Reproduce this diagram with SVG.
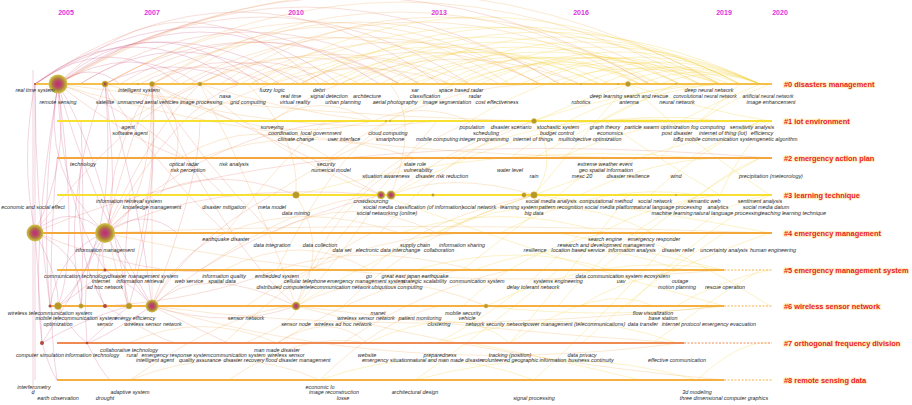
<svg xmlns="http://www.w3.org/2000/svg" width="912" height="405" viewBox="0 0 912 405">
<style>
.bg{fill:#fff}
.yr{font:bold 7px "Liberation Sans",Arial,sans-serif;fill:#e030e0;text-anchor:middle}
.cl{font:bold 7.4px "Liberation Sans",Arial,sans-serif;fill:#e8202a;stroke:#fdf0c0;stroke-width:2;paint-order:stroke}
.t{font:italic 5.4px "Liberation Sans",Arial,sans-serif;fill:#2a2a2a;text-anchor:middle}
.s{font-size:5px}
.ln{fill:none;stroke-width:1.8}
.dash{fill:none;stroke-width:1;stroke-dasharray:2 1.5}
.arcs path{fill:none;stroke-width:.6}
.p{stroke:#c84a7a;opacity:.4}
.r{stroke:#e06a55;opacity:.38}
.o{stroke:#f0a040;opacity:.4}
.y{stroke:#f3d030;opacity:.45}
.sn{fill:#b8962a;stroke:#d0b848;stroke-width:.5}
.rn{fill:#b04a40}
</style>
<defs>
<radialGradient id="big">
<stop offset="0" stop-color="#c02a7a"/>
<stop offset=".35" stop-color="#b84a68"/>
<stop offset=".6" stop-color="#b07a40"/>
<stop offset=".8" stop-color="#c0a838"/>
<stop offset="1" stop-color="#d2c452"/>
</radialGradient>
</defs>
<rect class="bg" x="0" y="0" width="912" height="405"/>
<g id="years">
<text class="yr" x="66" y="15">2005</text>
<text class="yr" x="152" y="15">2007</text>
<text class="yr" x="296" y="15">2010</text>
<text class="yr" x="439" y="15">2013</text>
<text class="yr" x="581" y="15">2016</text>
<text class="yr" x="724" y="15">2019</text>
<text class="yr" x="780" y="15">2020</text>
</g>
<g id="connectors" class="arcs">
<path class="p" d="M35,84 Q110,30 180,84"/>
<path class="p" d="M35,84 Q160,0 300,84"/>
<path class="p" d="M58,84 Q130,40 200,84"/>
<path class="p" d="M58,84 Q200,-20 340,84"/>
<path class="r" d="M58,84 Q260,-50 470,84"/>
<path class="r" d="M58,84 Q300,-70 560,84"/>
<path class="p" d="M58,84 Q90,60 120,84"/>
<path class="p" d="M105,84 Q170,50 240,84"/>
<path class="r" d="M105,84 Q250,0 400,84"/>
<path class="o" d="M105,84 Q320,-40 540,84"/>
<path class="r" d="M152,84 Q230,40 310,84"/>
<path class="o" d="M152,84 Q330,-30 510,84"/>
<path class="o" d="M152,84 Q400,-60 650,84"/>
<path class="o" d="M200,84 Q300,30 400,84"/>
<path class="o" d="M200,84 Q420,-40 640,84"/>
<path class="y" d="M250,84 Q480,-50 720,84"/>
<path class="o" d="M250,84 Q350,30 450,84"/>
<path class="y" d="M300,84 Q520,-30 740,84"/>
<path class="o" d="M300,84 Q420,20 540,84"/>
<path class="y" d="M340,84 Q500,0 660,84"/>
<path class="y" d="M380,84 Q560,-10 740,84"/>
<path class="y" d="M400,84 Q520,30 640,84"/>
<path class="y" d="M420,84 Q580,0 740,84"/>
<path class="y" d="M450,84 Q600,10 760,84"/>
<path class="y" d="M480,84 Q620,20 760,84"/>
<path class="y" d="M520,84 Q640,30 760,84"/>
<path class="y" d="M560,84 Q660,40 760,84"/>
<path class="y" d="M600,84 Q680,50 760,84"/>
<path class="y" d="M620,84 Q690,55 760,84"/>
<path class="y" d="M640,84 Q700,60 760,84"/>
<path class="y" d="M660,84 Q710,65 760,84"/>
<path class="y" d="M500,84 Q600,30 700,84"/>
<path class="y" d="M440,84 Q540,30 640,84"/>
<path class="r" d="M35,84 Q240,-60 440,84"/>
<path class="r" d="M80,84 Q250,-20 420,84"/>
<path class="o" d="M130,84 Q320,-10 500,84"/>
<path class="o" d="M180,84 Q360,-10 540,84"/>
<path class="o" d="M230,84 Q400,0 580,84"/>
<path class="y" d="M270,84 Q440,10 600,84"/>
<path class="y" d="M320,84 Q460,20 600,84"/>
<path class="y" d="M360,84 Q520,10 680,84"/>
<path class="r" d="M58,84 Q350,-90 650,84"/>
<path class="o" d="M58,84 Q380,-100 720,84"/>
<path class="o" d="M105,84 Q400,-80 700,84"/>
<path class="p" d="M35,84 Q200,-30 380,84"/>
<path class="p" d="M35,84 Q130,10 240,84"/>
<path class="p" d="M58,84 Q150,0 260,84"/>
<path class="p" d="M80,84 Q180,20 280,84"/>
<path class="r" d="M120,84 Q260,0 400,84"/>
<path class="o" d="M170,84 Q350,-40 560,84"/>
<path class="o" d="M220,84 Q430,-50 680,84"/>
<path class="y" d="M260,84 Q480,-30 720,84"/>
<path class="y" d="M290,84 Q480,-10 680,84"/>
<path class="y" d="M330,84 Q540,-20 760,84"/>
<path class="y" d="M350,84 Q480,20 610,84"/>
<path class="y" d="M390,84 Q540,20 700,84"/>
<path class="y" d="M410,84 Q560,30 720,84"/>
<path class="y" d="M460,84 Q560,40 660,84"/>
<path class="y" d="M470,84 Q600,30 730,84"/>
<path class="y" d="M530,84 Q620,40 720,84"/>
<path class="y" d="M580,84 Q660,50 740,84"/>
<path class="o" d="M300,84 Q360,50 420,84"/>
<path class="o" d="M240,84 Q300,50 360,84"/>
<path class="r" d="M190,84 Q260,40 330,84"/>
<path class="r" d="M140,84 Q200,50 270,84"/>
<path class="r" d="M58,84 Q180,-40 320,84"/>
<path class="o" d="M128,121 Q300,10 470,84"/>
<path class="o" d="M272,121 Q420,20 580,84"/>
<path class="y" d="M388,121 Q520,30 650,84"/>
<path class="y" d="M470,121 Q600,40 720,84"/>
<path class="o" d="M190,121 Q330,40 450,84"/>
<path class="p" d="M33,70 L33,395"/>
<path class="p" d="M35,84 L35,380"/>
<path class="p" d="M35,84 Q20,160 35,232"/>
<path class="p" d="M58,84 Q40,170 105,233"/>
<path class="p" d="M58,84 Q70,160 35,232"/>
<path class="p" d="M58,84 Q90,200 152,306"/>
<path class="p" d="M58,84 Q100,150 129,306"/>
<path class="p" d="M35,232 Q60,280 58,306"/>
<path class="p" d="M105,233 Q90,280 105,306"/>
<path class="p" d="M105,233 Q130,280 152,306"/>
<path class="p" d="M35,232 Q40,300 42,343"/>
<path class="p" d="M105,233 Q70,300 42,343"/>
<path class="r" d="M105,233 Q180,150 296,195"/>
<path class="r" d="M105,233 Q200,180 381,195"/>
<path class="p" d="M35,232 Q70,200 105,233"/>
<path class="p" d="M105,233 Q145,205 177,233"/>
<path class="r" d="M152,306 Q200,260 296,306"/>
<path class="r" d="M152,306 Q240,230 381,195"/>
<path class="p" d="M152,306 Q100,340 87,343"/>
<path class="p" d="M58,306 Q70,330 87,343"/>
<path class="p" d="M129,306 Q100,330 87,343"/>
<path class="p" d="M42,343 Q80,320 129,306"/>
<path class="p" d="M42,343 Q50,370 57,380"/>
<path class="p" d="M87,343 Q100,370 110,380"/>
<path class="p" d="M35,84 Q35,200 50,306"/>
<path class="p" d="M58,84 Q80,250 58,306"/>
<path class="p" d="M105,84 Q120,200 105,233"/>
<path class="p" d="M105,84 Q140,200 152,306"/>
<path class="p" d="M81,121 Q85,220 81,306"/>
<path class="p" d="M82,158 Q70,250 105,306"/>
<path class="p" d="M57,158 Q45,300 57,380"/>
<path class="p" d="M130,195 Q120,300 129,306"/>
<path class="p" d="M42,343 Q30,250 58,84"/>
<path class="p" d="M50,306 Q40,200 58,84"/>
<path class="p" d="M87,343 Q80,250 105,233"/>
<path class="p" d="M58,306 Q120,250 105,84"/>
<path class="p" d="M129,306 Q160,200 152,84"/>
<path class="p" d="M105,270 Q60,200 58,84"/>
<path class="p" d="M81,306 Q60,200 105,84"/>
<path class="r" d="M35,232 Q120,120 200,84"/>
<path class="r" d="M105,233 Q150,130 200,84"/>
<path class="r" d="M105,233 Q180,100 240,84"/>
<path class="r" d="M58,84 Q130,140 183,158"/>
<path class="r" d="M105,84 Q150,160 226,233"/>
<path class="r" d="M58,84 Q140,110 224,195"/>
<path class="r" d="M152,306 Q180,250 226,233"/>
<path class="r" d="M152,84 Q200,160 272,233"/>
<path class="r" d="M152,306 Q200,180 200,121"/>
<path class="r" d="M152,84 Q160,150 135,270"/>
<path class="r" d="M35,232 Q150,280 224,270"/>
<path class="r" d="M105,306 Q200,300 277,270"/>
<path class="r" d="M152,84 Q200,130 160,195"/>
<path class="r" d="M152,84 Q130,140 105,233"/>
<path class="r" d="M152,306 Q190,240 272,195"/>
<path class="r" d="M152,84 Q80,200 129,306"/>
<path class="r" d="M152,306 Q230,330 296,306"/>
<path class="r" d="M152,84 Q152,160 152,306"/>
<path class="r" d="M152,84 Q152,210 105,233"/>
<path class="r" d="M152,84 Q220,240 296,306"/>
<path class="r" d="M152,84 Q300,150 381,195"/>
<path class="o" d="M200,84 Q260,200 296,306"/>
<path class="o" d="M200,84 Q280,160 381,195"/>
<path class="o" d="M248,84 Q300,140 296,195"/>
<path class="o" d="M296,195 Q330,250 296,306"/>
<path class="o" d="M381,195 Q340,260 296,306"/>
<path class="o" d="M391,195 Q450,170 534,195"/>
<path class="o" d="M391,195 Q460,140 534,121"/>
<path class="o" d="M391,195 Q420,120 390,84"/>
<path class="o" d="M296,306 Q380,260 486,306"/>
<path class="y" d="M296,306 Q400,240 534,195"/>
<path class="y" d="M534,121 Q580,100 628,84"/>
<path class="y" d="M534,195 Q580,140 628,84"/>
<path class="y" d="M534,121 Q560,160 534,195"/>
<path class="y" d="M534,195 Q650,150 770,121"/>
<path class="y" d="M534,195 Q650,210 770,233"/>
<path class="y" d="M628,84 Q700,150 770,195"/>
<path class="y" d="M628,84 Q700,110 770,121"/>
<path class="y" d="M534,121 Q650,80 770,84"/>
<path class="y" d="M486,306 Q600,250 724,270"/>
<path class="y" d="M486,306 Q600,320 724,306"/>
<path class="y" d="M381,195 Q550,260 724,306"/>
<path class="y" d="M391,195 Q560,100 724,121"/>
<path class="y" d="M296,195 Q500,140 700,158"/>
<path class="o" d="M296,306 Q500,360 724,380"/>
<path class="o" d="M296,306 Q480,330 680,343"/>
<path class="o" d="M152,306 Q400,380 680,343"/>
<path class="o" d="M152,306 Q400,340 724,306"/>
<path class="o" d="M105,233 Q400,300 724,270"/>
<path class="o" d="M105,233 Q400,220 770,233"/>
<path class="o" d="M58,84 Q400,130 770,121"/>
<path class="o" d="M58,84 Q300,160 700,158"/>
<path class="r" d="M35,232 Q300,120 770,158"/>
<path class="o" d="M105,84 Q300,140 437,121"/>
<path class="o" d="M152,84 Q260,150 373,121"/>
<path class="o" d="M200,84 Q280,110 373,121"/>
<path class="o" d="M373,121 Q420,100 470,121"/>
<path class="o" d="M270,121 Q320,90 373,121"/>
<path class="r" d="M105,233 Q220,120 373,121"/>
<path class="o" d="M200,158 Q300,120 415,158"/>
<path class="o" d="M180,158 Q260,110 330,158"/>
<path class="o" d="M226,233 Q300,200 400,233"/>
<path class="o" d="M272,233 Q350,190 437,233"/>
<path class="y" d="M400,233 Q500,200 605,233"/>
<path class="y" d="M437,233 Q550,180 653,233"/>
<path class="o" d="M224,270 Q300,230 370,270"/>
<path class="o" d="M277,270 Q360,240 474,270"/>
<path class="y" d="M415,270 Q520,240 610,270"/>
<path class="y" d="M474,270 Q580,230 680,270"/>
<path class="o" d="M129,343 Q200,310 277,343"/>
<path class="o" d="M277,343 Q330,310 367,343"/>
<path class="y" d="M367,343 Q460,300 510,343"/>
<path class="y" d="M440,343 Q560,300 677,343"/>
<path class="o" d="M130,380 Q230,340 320,380"/>
<path class="y" d="M320,380 Q430,340 534,380"/>
<path class="y" d="M415,380 Q560,340 697,380"/>
<path class="y" d="M680,121 Q720,100 760,84"/>
<path class="y" d="M700,121 Q730,100 770,84"/>
<path class="y" d="M690,158 Q720,140 760,121"/>
<path class="y" d="M660,158 Q700,120 740,84"/>
<path class="y" d="M700,195 Q730,170 760,158"/>
<path class="y" d="M650,195 Q700,150 760,121"/>
<path class="y" d="M720,195 Q740,150 770,121"/>
<path class="y" d="M600,121 Q650,90 720,84"/>
<path class="y" d="M560,158 Q640,120 720,121"/>
<path class="y" d="M580,195 Q650,160 720,158"/>
<path class="y" d="M600,233 Q660,200 720,195"/>
<path class="y" d="M500,233 Q600,180 700,195"/>
<path class="y" d="M450,158 Q560,110 680,121"/>
<path class="y" d="M510,158 Q600,90 700,84"/>
<path class="o" d="M330,158 Q430,80 560,84"/>
<path class="o" d="M380,233 Q450,150 534,121"/>
<path class="o" d="M370,270 Q420,220 534,195"/>
<path class="o" d="M343,306 Q420,230 534,195"/>
<path class="y" d="M463,306 Q520,250 605,233"/>
<path class="y" d="M510,343 Q600,280 653,306"/>
<path class="o" d="M245,343 Q300,320 296,306"/>
<path class="r" d="M152,306 Q200,330 228,343"/>
<path class="r" d="M105,306 Q160,340 176,343"/>
<path class="p" d="M50,306 Q60,250 105,233"/>
<path class="p" d="M81,306 Q90,260 35,232"/>
<path class="p" d="M105,270 Q100,250 105,233"/>
<path class="p" d="M105,270 Q70,300 58,306"/>
<path class="p" d="M105,270 Q140,290 152,306"/>
<path class="o" d="M226,233 Q280,160 326,121"/>
<path class="o" d="M277,270 Q330,160 388,121"/>
<path class="o" d="M312,270 Q380,190 437,121"/>
<path class="o" d="M296,306 Q330,200 415,158"/>
<path class="o" d="M272,195 Q340,150 415,121"/>
<path class="o" d="M320,233 Q380,160 472,121"/>
<path class="o" d="M246,306 Q340,240 462,233"/>
<path class="o" d="M200,270 Q300,200 381,195"/>
<path class="o" d="M224,343 Q300,270 371,233"/>
<path class="o" d="M277,343 Q380,280 462,270"/>
<path class="o" d="M320,380 Q380,320 439,306"/>
<path class="o" d="M130,380 Q230,310 296,306"/>
<path class="o" d="M229,380 Q300,330 367,343"/>
<path class="o" d="M343,343 Q420,290 510,270"/>
<path class="y" d="M415,380 Q500,320 558,270"/>
<path class="y" d="M437,343 Q520,300 580,233"/>
<path class="y" d="M462,270 Q540,210 605,158"/>
<path class="y" d="M510,343 Q580,260 628,195"/>
<path class="y" d="M534,380 Q620,300 676,233"/>
<path class="y" d="M558,306 Q620,230 700,195"/>
<path class="y" d="M582,343 Q650,280 724,233"/>
<path class="y" d="M600,270 Q680,200 760,158"/>
<path class="y" d="M628,306 Q700,230 770,195"/>
<path class="y" d="M653,343 Q710,300 760,270"/>
<path class="y" d="M534,158 Q600,120 676,84"/>
<path class="y" d="M605,121 Q660,160 720,195"/>
<path class="y" d="M580,306 Q620,280 680,270"/>
<path class="y" d="M470,343 Q560,360 640,380"/>
<path class="y" d="M560,233 Q640,250 724,270"/>
<path class="y" d="M628,233 Q700,260 770,306"/>
<path class="y" d="M676,270 Q720,250 770,233"/>
<path class="y" d="M676,306 Q720,280 770,270"/>
<path class="y" d="M697,380 Q740,340 770,343"/>
<path class="y" d="M690,233 Q730,200 770,195"/>
</g>
<g id="cluster-0">
<line class="ln" x1="35" y1="84" x2="772" y2="84" stroke="#f6bf48"/>
<circle cx="35" cy="84" r="1" class="rn"/>
<circle cx="58" cy="84" r="9.5" fill="url(#big)"/>
<circle cx="105" cy="84" r="3" class="sn"/><circle cx="105" cy="84" r="1.4" class="rn"/>
<circle cx="138" cy="84" r=".8" class="sn"/>
<circle cx="152" cy="84" r="2.5" class="sn"/>
<circle cx="200" cy="84" r="2" class="sn"/>
<circle cx="581" cy="84" r=".8" class="sn"/>
<circle cx="618" cy="84" r=".8" class="sn"/>
<circle cx="628" cy="84" r="2.5" class="sn"/>
<circle cx="676" cy="84" r=".8" class="sn"/>
<text class="cl" x="784" y="86.5">#0 disasters management</text>
<text class="t" x="35" y="92">real time system</text>
<text class="t" x="139" y="92">intelligent system</text>
<text class="t" x="272" y="92">fuzzy logic</text>
<text class="t" x="319" y="92">debri</text>
<text class="t" x="415" y="92">sar</text>
<text class="t" x="461" y="92">space based radar</text>
<text class="t" x="709" y="92">deep neural network</text>
<text class="t" x="225" y="98">nasa</text>
<text class="t" x="291" y="98">real time</text>
<text class="t" x="329" y="98">signal detection</text>
<text class="t" x="367" y="98">architecture</text>
<text class="t" x="425" y="98">classification</text>
<text class="t" x="475" y="98">radar</text>
<text class="t" x="606" y="98">deep learning</text>
<text class="t" x="646" y="98">search and rescue</text>
<text class="t s" x="705" y="98">convolutional neural network</text>
<text class="t s" x="768" y="98">artificial neural network</text>
<text class="t" x="58" y="104">remote sensing</text>
<text class="t" x="105" y="104">satellite</text>
<text class="t" x="148" y="104">unmanned aerial vehicles</text>
<text class="t" x="201" y="104">image processing</text>
<text class="t" x="248" y="104">grid computing</text>
<text class="t" x="295" y="104">virtual reality</text>
<text class="t" x="343" y="104">urban planning</text>
<text class="t" x="395" y="104">aerial photography</text>
<text class="t" x="447" y="104">image segmentation</text>
<text class="t" x="497" y="104">cost effectiveness</text>
<text class="t" x="581" y="104">robotics</text>
<text class="t" x="629" y="104">antenna</text>
<text class="t" x="677" y="104">neural network</text>
<text class="t" x="771" y="104">image enhancement</text>
</g>
<g id="cluster-1">
<line class="ln" x1="57" y1="121" x2="772" y2="121" stroke="#f7e030"/>
<circle cx="386" cy="121" r=".8" class="sn"/>
<circle cx="390" cy="121" r=".8" class="sn"/>
<circle cx="534" cy="121" r="2.5" class="sn"/>
<text class="cl" x="784" y="123.5">#1 iot environment</text>
<text class="t" x="128" y="129">agent</text>
<text class="t" x="272" y="129">surveying</text>
<text class="t" x="472" y="129">population</text>
<text class="t" x="511" y="129">disaster scenario</text>
<text class="t" x="558" y="129">stochastic system</text>
<text class="t" x="605" y="129">graph theory</text>
<text class="t" x="657" y="129">particle swarm optimization</text>
<text class="t" x="708" y="129">fog computing</text>
<text class="t" x="752" y="129">sensitivity analysis</text>
<text class="t" x="130" y="135">software agent</text>
<text class="t" x="283" y="135">coordination</text>
<text class="t" x="321" y="135">local government</text>
<text class="t" x="388" y="135">cloud computing</text>
<text class="t" x="486" y="135">scheduling</text>
<text class="t" x="557" y="135">budget control</text>
<text class="t" x="610" y="135">economics</text>
<text class="t" x="677" y="135">post disaster</text>
<text class="t" x="723" y="135">internet of thing (iot)</text>
<text class="t" x="762" y="135">efficiency</text>
<text class="t" x="296" y="141">climate change</text>
<text class="t" x="344" y="141">user interface</text>
<text class="t" x="390" y="141">smartphone</text>
<text class="t" x="437" y="141">mobile computing</text>
<text class="t" x="484" y="141">integer programming</text>
<text class="t" x="533" y="141">internet of things</text>
<text class="t" x="590" y="141">multiobjective optimization</text>
<text class="t" x="676" y="141">iot</text>
<text class="t" x="717" y="141">5g mobile communication system</text>
<text class="t" x="777" y="141">genetic algorithm</text>
</g>
<g id="cluster-2">
<line class="ln" x1="57" y1="158" x2="772" y2="158" stroke="#f5a63a"/>
<text class="cl" x="784" y="160.5">#2 emergency action plan</text>
<text class="t" x="83" y="166">technology</text>
<text class="t" x="184" y="166">optical radar</text>
<text class="t" x="234" y="166">risk analysis</text>
<text class="t" x="326" y="166">security</text>
<text class="t" x="415" y="166">state role</text>
<text class="t" x="605" y="166">extreme weather event</text>
<text class="t" x="188" y="172">risk perception</text>
<text class="t" x="331" y="172">numerical model</text>
<text class="t" x="418" y="172">vulnerability</text>
<text class="t" x="510" y="172">water level</text>
<text class="t" x="606" y="172">geo spatial information</text>
<text class="t" x="386" y="178">situation awareness</text>
<text class="t" x="442" y="178">disaster risk reduction</text>
<text class="t" x="534" y="178">rain</text>
<text class="t" x="582" y="178">mesc 20</text>
<text class="t" x="628" y="178">disaster resilience</text>
<text class="t" x="676" y="178">wind</text>
<text class="t" x="771" y="178">precipitation (meteorology)</text>
</g>
<g id="cluster-3">
<line class="ln" x1="57" y1="195" x2="772" y2="195" stroke="#f7e030"/>
<circle cx="296" cy="195" r="3.3" class="sn"/>
<circle cx="381" cy="195" r="4" fill="url(#big)"/>
<circle cx="391" cy="195" r="4.5" fill="url(#big)"/>
<circle cx="433" cy="195" r="1.3" class="sn"/>
<circle cx="524" cy="195" r="2.2" class="sn"/>
<circle cx="534" cy="195" r="3.3" class="sn"/>
<circle cx="676" cy="195" r=".8" class="sn"/>
<text class="cl" x="784" y="197.5">#3 learning technique</text>
<text class="t" x="129" y="203">information retrieval system</text>
<text class="t" x="371" y="203">crowdsourcing</text>
<text class="t" x="551" y="203">social media analysis</text>
<text class="t" x="606" y="203">computational method</text>
<text class="t" x="655" y="203">social network</text>
<text class="t" x="704" y="203">semantic web</text>
<text class="t" x="760" y="203">sentiment analysis</text>
<text class="t" x="33" y="209">economic and social effect</text>
<text class="t" x="152" y="209">knowledge management</text>
<text class="t" x="224" y="209">disaster mitigation</text>
<text class="t" x="272" y="209">meta model</text>
<text class="t" x="378" y="209">social media</text>
<text class="t" x="429" y="209">classification (of information)</text>
<text class="t" x="479" y="209">social network</text>
<text class="t" x="519" y="209">learning system</text>
<text class="t" x="561" y="209">pattern recognition</text>
<text class="t" x="610" y="209">social media platform</text>
<text class="t" x="668" y="209">natural language processing</text>
<text class="t" x="718" y="209">analytics</text>
<text class="t" x="766" y="209">social media datum</text>
<text class="t" x="296" y="215">data mining</text>
<text class="t" x="387" y="215">social networking (online)</text>
<text class="t" x="534" y="215">big data</text>
<text class="t" x="672" y="215">machine learning</text>
<text class="t" x="727" y="215">natural language processing</text>
<text class="t" x="793" y="215">teaching learning technique</text>
</g>
<g id="cluster-4">
<line class="ln" x1="43" y1="233" x2="772" y2="233" stroke="#f5a83a"/>
<circle cx="35" cy="233" r="8.5" fill="url(#big)"/>
<circle cx="105" cy="233" r="10" fill="url(#big)"/>
<text class="cl" x="784" y="235.5">#4 emergency management</text>
<text class="t" x="226" y="241">earthquake disaster</text>
<text class="t" x="605" y="241">search engine</text>
<text class="t" x="654" y="241">emergency responder</text>
<text class="t" x="272" y="246.5">data integration</text>
<text class="t" x="320" y="246.5">data collection</text>
<text class="t" x="415" y="246.5">supply chain</text>
<text class="t" x="462" y="246.5">information sharing</text>
<text class="t" x="606" y="246.5">research and development management</text>
<text class="t" x="105" y="252">information management</text>
<text class="t" x="342" y="252">data set</text>
<text class="t" x="388" y="252">electronic data interchange</text>
<text class="t" x="439" y="252">collaboration</text>
<text class="t" x="578" y="252">location based service</text>
<text class="t" x="535" y="252">resilience</text>
<text class="t" x="632" y="252">information analysis</text>
<text class="t" x="678" y="252">disaster relief</text>
<text class="t" x="724" y="252">uncertainty analysis</text>
<text class="t" x="773" y="252">human engineering</text>
</g>
<g id="cluster-5">
<line class="ln" x1="57" y1="270" x2="724" y2="270" stroke="#f5b040"/>
<line class="dash" x1="724" y1="270" x2="772" y2="270" stroke="#f5b040"/>
<circle cx="105" cy="270" r="1.5" class="rn"/>
<text class="cl" x="784" y="272.5">#5 emergency management system</text>
<text class="t" x="76" y="278">communication technology</text>
<text class="t" x="143" y="278">disaster management system</text>
<text class="t" x="224" y="278">information quality</text>
<text class="t" x="277" y="278">embedded system</text>
<text class="t" x="369" y="278">go</text>
<text class="t" x="415" y="278">great east japan earthquake</text>
<text class="t" x="609" y="278">data communication system</text>
<text class="t" x="657" y="278">ecosystem</text>
<text class="t" x="101" y="283">internet</text>
<text class="t" x="140" y="283">information retrieval</text>
<text class="t" x="189" y="283">web service</text>
<text class="t" x="222" y="283">spatial data</text>
<text class="t" x="305" y="283">cellular telephone</text>
<text class="t" x="366" y="283">emergency management system</text>
<text class="t" x="424" y="283">strategic scalability</text>
<text class="t" x="477" y="283">communication system</text>
<text class="t" x="558" y="283">systems engineering</text>
<text class="t" x="621" y="283">uav</text>
<text class="t" x="680" y="283">outage</text>
<text class="t" x="105" y="289">ad hoc network</text>
<text class="t" x="281" y="289">distributed computer</text>
<text class="t" x="338" y="289">telecommunication network</text>
<text class="t" x="397" y="289">ubiquitous computing</text>
<text class="t" x="533" y="289">delay tolerant network</text>
<text class="t" x="677" y="289">motion planning</text>
<text class="t" x="725" y="289">rescue operation</text>
</g>
<g id="cluster-6">
<line class="ln" x1="50" y1="306" x2="724" y2="306" stroke="#f5b040"/>
<line class="dash" x1="724" y1="306" x2="772" y2="306" stroke="#f5b040"/>
<circle cx="50" cy="306" r="1.5" class="rn"/>
<circle cx="58" cy="306" r="3.5" class="sn"/>
<circle cx="81" cy="306" r="2.3" class="sn"/>
<circle cx="105" cy="306" r="2" class="rn"/>
<circle cx="129" cy="306" r="3" class="sn"/>
<circle cx="152" cy="306" r="6.5" fill="url(#big)"/>
<circle cx="296" cy="306" r="4.3" fill="url(#big)"/>
<circle cx="486" cy="306" r="2" class="sn"/>
<text class="cl" x="784" y="308.5">#6 wireless sensor network</text>
<text class="t" x="50" y="315">wireless telecommunication system</text>
<text class="t" x="378" y="315">manet</text>
<text class="t" x="463" y="315">mobile security</text>
<text class="t" x="653" y="315">flow visualization</text>
<text class="t" x="76" y="320">mobile telecommunication system</text>
<text class="t" x="135" y="320">energy efficiency</text>
<text class="t" x="246" y="320">sensor network</text>
<text class="t" x="366" y="320">wireless sensor network</text>
<text class="t" x="420" y="320">patient monitoring</text>
<text class="t" x="467" y="320">vehicle</text>
<text class="t" x="663" y="320">base station</text>
<text class="t" x="58" y="326">optimization</text>
<text class="t" x="105" y="326">sensor</text>
<text class="t" x="153" y="326">wireless sensor network</text>
<text class="t" x="296" y="326">sensor node</text>
<text class="t" x="343" y="326">wireless ad hoc network</text>
<text class="t" x="439" y="326">clustering</text>
<text class="t" x="485" y="326">network security</text>
<text class="t" x="516" y="326">network</text>
<text class="t" x="575" y="326">power management (telecommunications)</text>
<text class="t" x="643" y="326">data transfer</text>
<text class="t" x="681" y="326">internet protocol</text>
<text class="t" x="729" y="326">emergency evacuation</text>
</g>
<g id="cluster-7">
<line class="ln" x1="57" y1="343" x2="684" y2="343" stroke="#f08a55"/>
<line class="dash" x1="684" y1="343" x2="772" y2="343" stroke="#f08a55"/>
<circle cx="42" cy="343" r="2" class="rn"/>
<circle cx="87" cy="343" r="1.3" class="rn"/>
<text class="cl" x="784" y="345.5">#7 orthogonal frequency division</text>
<text class="t" x="129" y="352">collaborative technology</text>
<text class="t" x="277" y="352">man made disaster</text>
<text class="t" x="40" y="357">computer simulation</text>
<text class="t" x="92" y="357">information technology</text>
<text class="t" x="132" y="357">rural</text>
<text class="t" x="176" y="357">emergency response system</text>
<text class="t" x="238" y="357">communication system</text>
<text class="t" x="286" y="357">wireless sensor</text>
<text class="t" x="367" y="357">website</text>
<text class="t" x="440" y="357">preparedness</text>
<text class="t" x="510" y="357">tracking (position)</text>
<text class="t" x="582" y="357">data privacy</text>
<text class="t" x="155" y="362">intelligent agent</text>
<text class="t" x="200" y="362">quality assurance</text>
<text class="t" x="244" y="362">disaster recovery</text>
<text class="t" x="298" y="362">flood disaster management</text>
<text class="t" x="386" y="362">emergency situation</text>
<text class="t" x="447" y="362">natural and man made disaster</text>
<text class="t" x="524" y="362">volunteered geographic information</text>
<text class="t" x="591" y="362">business continuity</text>
<text class="t" x="677" y="362">effective communication</text>
</g>
<g id="cluster-8">
<line class="ln" x1="57" y1="380" x2="724" y2="380" stroke="#f5b040"/>
<line class="dash" x1="724" y1="380" x2="772" y2="380" stroke="#f5b040"/>
<text class="cl" x="784" y="382.5">#8 remote sensing data</text>
<text class="t" x="34" y="389">interferometry</text>
<text class="t" x="320" y="389">economic lo</text>
<text class="t" x="33" y="394">d</text>
<text class="t" x="130" y="394">adaptive system</text>
<text class="t" x="334" y="394">image reconstruction</text>
<text class="t" x="415" y="394">architectural design</text>
<text class="t" x="697" y="394">3d modeling</text>
<text class="t" x="58" y="400">earth observation</text>
<text class="t" x="105" y="400">drought</text>
<text class="t" x="343" y="400">losse</text>
<text class="t" x="534" y="400">signal processing</text>
<text class="t" x="724" y="400">three dimensional computer graphics</text>
</g>
</svg>
